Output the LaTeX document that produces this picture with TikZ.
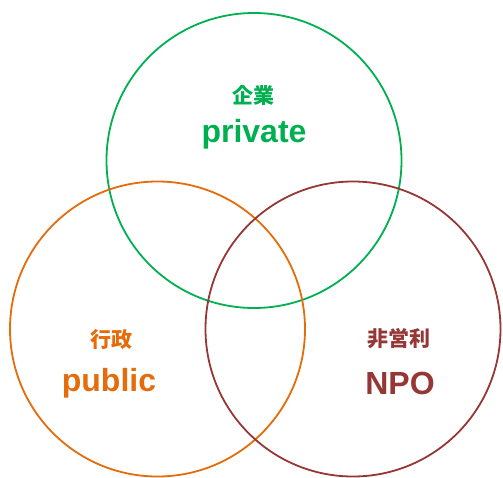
\documentclass[tikz,border=0pt]{standalone}
\usepackage{fontspec}
\setmainfont{Liberation Sans}
\newfontfamily\cjk{Noto Sans CJK JP}
\definecolor{cgreen}{HTML}{00B050}
\definecolor{corange}{HTML}{E46C0A}
\definecolor{cbrown}{HTML}{953735}
\begin{document}
\begin{tikzpicture}[x=1pt,y=-1pt,
  ring/.style={draw,line width=1.8pt,circle,minimum size=295pt,inner sep=0pt},
  jlabel/.style={font=\cjk\bfseries\fontsize{21}{21}\selectfont,inner sep=0pt},
  elabel/.style={font=\bfseries\fontsize{32}{32}\selectfont,inner sep=0pt,anchor=base}]
\useasboundingbox (0,0) rectangle (503,477);
\node[ring,cgreen] (priv) at (254,160.5) {};
\node[ring,corange] (pub) at (157.5,329) {};
\node[ring,cbrown] (npo) at (353,329) {};
\node[jlabel,text=cgreen] (jpriv) at (253,95) {企業};
\node[elabel,text=cgreen] (epriv) at (254,142) {private};
\node[jlabel,text=corange] (jpub) at (111,340) {行政};
\node[elabel,text=corange] (epub) at (109,391) {public};
\node[jlabel,text=cbrown] (jnpo) at (399,339) {非営利};
\node[elabel,text=cbrown] (enpo) at (400,394) {NPO};
\end{tikzpicture}
\end{document}
